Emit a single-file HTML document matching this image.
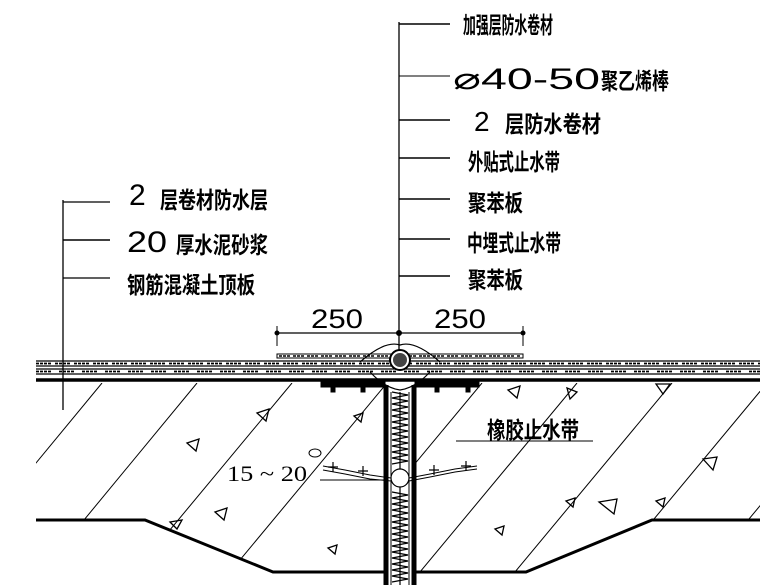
<!DOCTYPE html>
<html><head><meta charset="utf-8"><style>
html,body{margin:0;padding:0;background:#fff;width:780px;height:585px;overflow:hidden}
text{font-family:"Liberation Sans","Noto Sans CJK SC",sans-serif;fill:#000}
.c{font-weight:bold}
</style></head><body>
<svg width="780" height="585" viewBox="0 0 780 585" xmlns="http://www.w3.org/2000/svg">
<defs>
<clipPath id="cl"><polygon points="36,383 385,383 385,585 273,572 145,520 36,520"/></clipPath>
<clipPath id="cr"><polygon points="415,383 760,383 760,520 652,520 526,572 415,572"/></clipPath>
</defs>
<g stroke="#000" fill="none">
<line x1="399" y1="22" x2="399" y2="360" stroke-width="1.3"/>
<g stroke-width="1.5">
<line x1="399" y1="24" x2="450" y2="24"/><line x1="399" y1="76" x2="450" y2="76" stroke-width="1"/>
<line x1="399" y1="120" x2="450" y2="120"/><line x1="399" y1="158" x2="450" y2="158"/>
<line x1="399" y1="199" x2="450" y2="199"/><line x1="399" y1="239" x2="450" y2="239"/>
<line x1="399" y1="276" x2="450" y2="276"/>
</g>
<line x1="63" y1="200" x2="63" y2="410" stroke-width="1.3"/>
<line x1="63" y1="202" x2="110" y2="202" stroke-width="1.3"/>
<line x1="63" y1="240" x2="110" y2="240" stroke-width="1.6"/>
<line x1="63" y1="278" x2="110" y2="278" stroke-width="1.3"/>
<line x1="277" y1="333" x2="523" y2="333" stroke-width="1.2"/>
<line x1="277" y1="326" x2="277" y2="346"/><line x1="523" y1="326" x2="523" y2="346"/>
<circle cx="277" cy="333" r="2" fill="#000"/><circle cx="399" cy="333" r="2.5" fill="#000"/><circle cx="523" cy="333" r="2" fill="#000"/>
<rect x="277" y="354" width="246" height="4" stroke-width="1"/>
<line x1="279" y1="356" x2="521" y2="356" stroke-dasharray="3,1,3,1,3,3" stroke-width="1.5"/>
<line x1="36" y1="361" x2="760" y2="361" stroke-width="1.3"/>
<line x1="36" y1="363.5" x2="760" y2="363.5" stroke-dasharray="3,1,3,1,3,1,3,4" stroke-width="1.8"/>
<line x1="36" y1="366" x2="760" y2="366" stroke-width="1.3"/>
<line x1="36" y1="369" x2="760" y2="369" stroke-width="1.3"/>
<line x1="36" y1="371.5" x2="760" y2="371.5" stroke-dasharray="3,1,3,1,3,1,3,8" stroke-width="1.8"/>
<line x1="36" y1="374" x2="760" y2="374" stroke-width="1.3"/>
<line x1="36" y1="380" x2="760" y2="380" stroke-width="3.5"/>
<polyline points="36,520 145,520 273,572 385,572" stroke-width="3"/>
<polyline points="415,572 526,572 652,520 760,520" stroke-width="3"/>
<rect x="321" y="382" width="64" height="5" fill="#000"/>
<rect x="415" y="382" width="64" height="5" fill="#000"/>
<rect x="331" y="386" width="4" height="6" fill="#000"/><rect x="361" y="386" width="4" height="6" fill="#000"/>
<rect x="435" y="386" width="4" height="6" fill="#000"/><rect x="466" y="386" width="4" height="6" fill="#000"/>
<line x1="386" y1="385" x2="386" y2="585" stroke-width="5"/>
<line x1="414" y1="385" x2="414" y2="585" stroke-width="5"/>
<line x1="391" y1="392" x2="391" y2="585" stroke-width="1"/>
<line x1="409" y1="392" x2="409" y2="585" stroke-width="1"/>
<path d="M392,392 L408,395 L392,398 L408,401 L392,404 L408,407 L392,410 L408,413 L392,416 L408,419 L392,422 L408,425 L392,428 L408,431 L392,434 L408,437 L392,440 L408,443 L392,446 L408,449 L392,452 L408,455 L392,458 L408,461 L392,464 M392,492 L408,495 L392,498 L408,501 L392,504 L408,507 L392,510 L408,513 L392,516 L408,519 L392,522 L408,525 L392,528 L408,531 L392,534 L408,537 L392,540 L408,543 L392,546 L408,549 L392,552 L408,555 L392,558 L408,561 L392,564 L408,567 L392,570 L408,573 L392,576 L408,579 L392,582" stroke-width="1.2"/>
<line x1="400" y1="392" x2="400" y2="585" stroke-width="1.2"/>
<path d="M360,362 Q385,340 400,345 Q415,340 440,362" stroke-width="1.2"/>
<path d="M370,372 Q385,388 400,390 Q415,388 430,372" stroke-width="1.2"/>
<circle cx="400" cy="360" r="10" fill="#fff" stroke-width="2"/>
<circle cx="400" cy="360" r="7" fill="#444" stroke="none"/>
<circle cx="400" cy="478" r="9" fill="#fff" stroke-width="1.2"/>
<path d="M323,466 L345,470 L370,475 L391,478 M323,470 L345,474 L370,479 L391,481" stroke-width="1"/>
<path d="M409,478 L430,474 L455,469 L477,466 M409,481 L430,477 L455,472 L477,469" stroke-width="1"/>
<path d="M333,462 v10 M328,467 h10 M363,466 v10 M358,471 h10 M434,465 v10 M429,470 h10 M466,461 v10 M461,466 h10" stroke-width="1.2"/>
<line x1="320" y1="480" x2="385" y2="480" stroke-width="1"/>
<line x1="456" y1="441" x2="593" y2="441" stroke-width="1"/>
<g clip-path="url(#cl)" stroke-width="1">
<line x1="102" y1="383" x2="-30" y2="543"/><line x1="197" y1="383" x2="65" y2="543"/>
<line x1="292" y1="383" x2="120" y2="590"/><line x1="387" y1="383" x2="215" y2="590"/>
</g>
<g clip-path="url(#cr)" stroke-width="1">
<line x1="577" y1="383" x2="405" y2="590"/><line x1="672" y1="383" x2="500" y2="590"/>
<line x1="767" y1="383" x2="595" y2="590"/><line x1="862" y1="383" x2="690" y2="590"/>
<line x1="482" y1="383" x2="310" y2="590"/>
</g>
<g stroke-width="1.3">
<path d="M187,443 l12,-4 l-3,12 z"/><path d="M257,413 l12,-4 l-3,12 z"/>
<path d="M215,512 l12,-4 l-3,12 z"/><path d="M170,522 l12,-2 l-5,9 z"/>
<path d="M508,390 l12,-4 l-3,12 z"/>
<path d="M567,388 l10,4 l-7,7 z"/><path d="M656,384 l14,0 l-7,10 z"/>
<path d="M703,459 l14,-2 l-4,13 z"/><path d="M656,501 l9,-3 l-2,9 z"/>
<path d="M566,501 l9,-3 l-2,9 z"/><path d="M495,529 l9,-3 l-2,9 z"/>
<path d="M599,502 l18,-3 l-3,15 z"/><path d="M328,548 l9,-3 l-2,9 z"/>
<path d="M354,416 l9,-3 l-2,9 z"/>
</g>
<ellipse cx="315" cy="453" rx="6" ry="4" stroke-width="1"/>
</g>
<g font-size="23">
<text class="c" x="463" y="33" textLength="90" lengthAdjust="spacingAndGlyphs">加强层防水卷材</text>
<text x="453" y="89" font-size="30" textLength="147" lengthAdjust="spacingAndGlyphs">⌀40-50</text>
<text class="c" x="601" y="89" textLength="68" lengthAdjust="spacingAndGlyphs">聚乙烯棒</text>
<text x="474" y="131" font-size="28">2</text>
<text class="c" x="505" y="132" textLength="96" lengthAdjust="spacingAndGlyphs">层防水卷材</text>
<text class="c" x="468" y="170" textLength="92" lengthAdjust="spacingAndGlyphs">外贴式止水带</text>
<text class="c" x="468" y="211" textLength="55" lengthAdjust="spacingAndGlyphs">聚苯板</text>
<text class="c" x="467" y="251" textLength="94" lengthAdjust="spacingAndGlyphs">中埋式止水带</text>
<text class="c" x="468" y="288" textLength="55" lengthAdjust="spacingAndGlyphs">聚苯板</text>
<text x="129" y="205" font-size="30">2</text>
<text class="c" x="160" y="208" textLength="108" lengthAdjust="spacingAndGlyphs">层卷材防水层</text>
<text x="127" y="252" font-size="30" textLength="40" lengthAdjust="spacingAndGlyphs">20</text>
<text class="c" x="176" y="253" textLength="92" lengthAdjust="spacingAndGlyphs">厚水泥砂浆</text>
<text class="c" x="127" y="293" textLength="128" lengthAdjust="spacingAndGlyphs">钢筋混凝土顶板</text>
<text x="311" y="328" font-size="27" textLength="52" lengthAdjust="spacingAndGlyphs">250</text>
<text x="434" y="328" font-size="27" textLength="52" lengthAdjust="spacingAndGlyphs">250</text>
<text class="c" x="487" y="438" textLength="92" lengthAdjust="spacingAndGlyphs">橡胶止水带</text>
<text x="227" y="481" font-size="22" style="font-family:'Liberation Serif',serif" textLength="80" lengthAdjust="spacingAndGlyphs">15 ~ 20</text>
</g>
</svg>
</body></html>
